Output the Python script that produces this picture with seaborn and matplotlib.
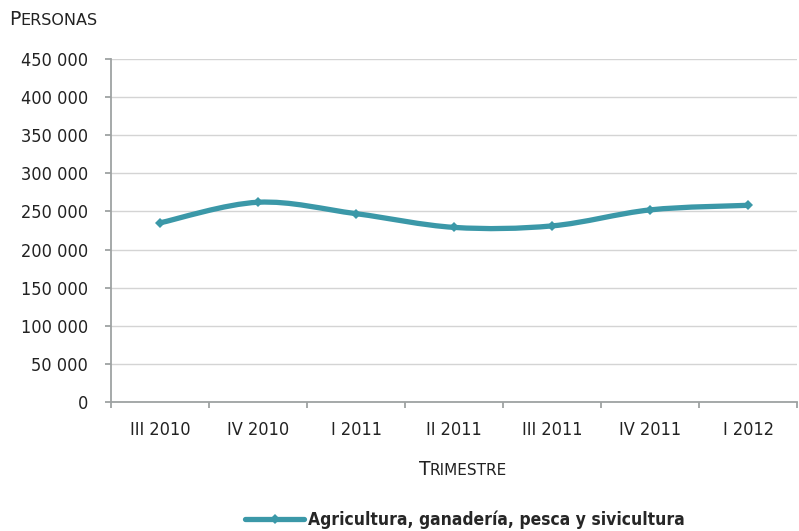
import numpy as np
import pandas as pd
import seaborn as sns
import matplotlib.pyplot as plt
from matplotlib.path import Path
from matplotlib.patches import PathPatch
from matplotlib.lines import Line2D
from matplotlib.ticker import FuncFormatter, FixedLocator

trimestres = ['III 2010', 'IV 2010', 'I 2011', 'II 2011', 'III 2011', 'IV 2011', 'I 2012']
personas = [235000, 262000, 247000, 229000, 231000, 252000, 258000]
serie = 'Agricultura, ganadería, pesca y sivicultura'

color = '#3b98a8'
gris = '#9ea2a2'
texto = '#222222'

sns.set_style('white')
plt.rcParams['font.family'] = ['DejaVu Sans']
plt.rcParams['font.stretch'] = 'condensed'

df = pd.DataFrame({'pos': np.arange(len(trimestres)), 'valor': personas})

fig = plt.figure(figsize=(7.99, 5.31), dpi=100)
ax = fig.add_axes([0.139, 0.243, 0.859, 0.646])

# marcadores (rombos)
sns.lineplot(data=df, x='pos', y='valor', ax=ax, color=color, linewidth=0,
             marker='D', markersize=5, markeredgewidth=0)

# linea suavizada tipo Excel (bezier catmull-rom entre los puntos)
x = df['pos'].values.astype(float)
y = df['valor'].values.astype(float)
verts = [(x[0], y[0])]
codes = [Path.MOVETO]
for i in range(len(x) - 1):
    x0, y0 = (x[i - 1], y[i - 1]) if i > 0 else (x[i], y[i])
    x3, y3 = (x[i + 2], y[i + 2]) if i + 2 < len(x) else (x[i + 1], y[i + 1])
    c1 = (x[i] + (x[i + 1] - x0) / 6, y[i] + (y[i + 1] - y0) / 6)
    c2 = (x[i + 1] - (x3 - x[i]) / 6, y[i + 1] - (y3 - y[i]) / 6)
    verts += [c1, c2, (x[i + 1], y[i + 1])]
    codes += [Path.CURVE4] * 3
ax.add_patch(PathPatch(Path(verts, codes), facecolor='none', edgecolor=color,
                       lw=3.8, capstyle='round', joinstyle='round'))

ax.set_xlim(-0.5, len(trimestres) - 0.5)
ax.set_ylim(0, 450000)
ax.set_yticks(np.arange(0, 450001, 50000))
ax.yaxis.set_major_formatter(FuncFormatter(lambda v, p: f'{int(v):,}'.replace(',', ' ')))
ax.set_xticks(np.arange(len(trimestres)))
ax.set_xticklabels(trimestres)
ax.xaxis.set_minor_locator(FixedLocator(np.arange(-0.5, len(trimestres), 1)))

ax.grid(axis='y', color='#d4d4d4', linewidth=1)
ax.set_axisbelow(True)
for s in ['top', 'right']:
    ax.spines[s].set_visible(False)
for s in ['left', 'bottom']:
    ax.spines[s].set_color(gris)
    ax.spines[s].set_linewidth(1.3)

ax.tick_params(axis='y', which='major', length=4.5, color=gris, width=1.3,
               labelsize=13, labelcolor=texto, pad=12, direction='out', left=True)
ax.tick_params(axis='x', which='major', length=0, labelsize=13,
               labelcolor=texto, pad=14)
ax.tick_params(axis='x', which='minor', length=4.5, color=gris, width=1.3,
               direction='out', bottom=True)
ax.set_xlabel('')
ax.set_ylabel('')

# titulos en versalitas
fig.text(0.011, 0.953, 'P', fontsize=13.5, color=texto, va='baseline', fontstretch='normal')
fig.text(0.026, 0.953, 'ERSONAS', fontsize=11.5, color=texto, va='baseline', fontstretch='normal')
fig.text(0.525, 0.105, 'T', fontsize=13.5, color=texto, va='baseline', fontstretch='normal')
fig.text(0.538, 0.105, 'RIMESTRE', fontsize=11, color=texto, va='baseline', fontstretch='normal')

handle = Line2D([], [], color=color, lw=3.8, marker='D', markersize=5,
                markeredgewidth=0)
fig.legend([handle], [serie], loc='lower center', bbox_to_anchor=(0.582, -0.025),
           frameon=False, prop={'size': 12.5, 'weight': 'bold'},
           handlelength=3.4, handletextpad=0.2)

fig.savefig('out.png', dpi=100)
